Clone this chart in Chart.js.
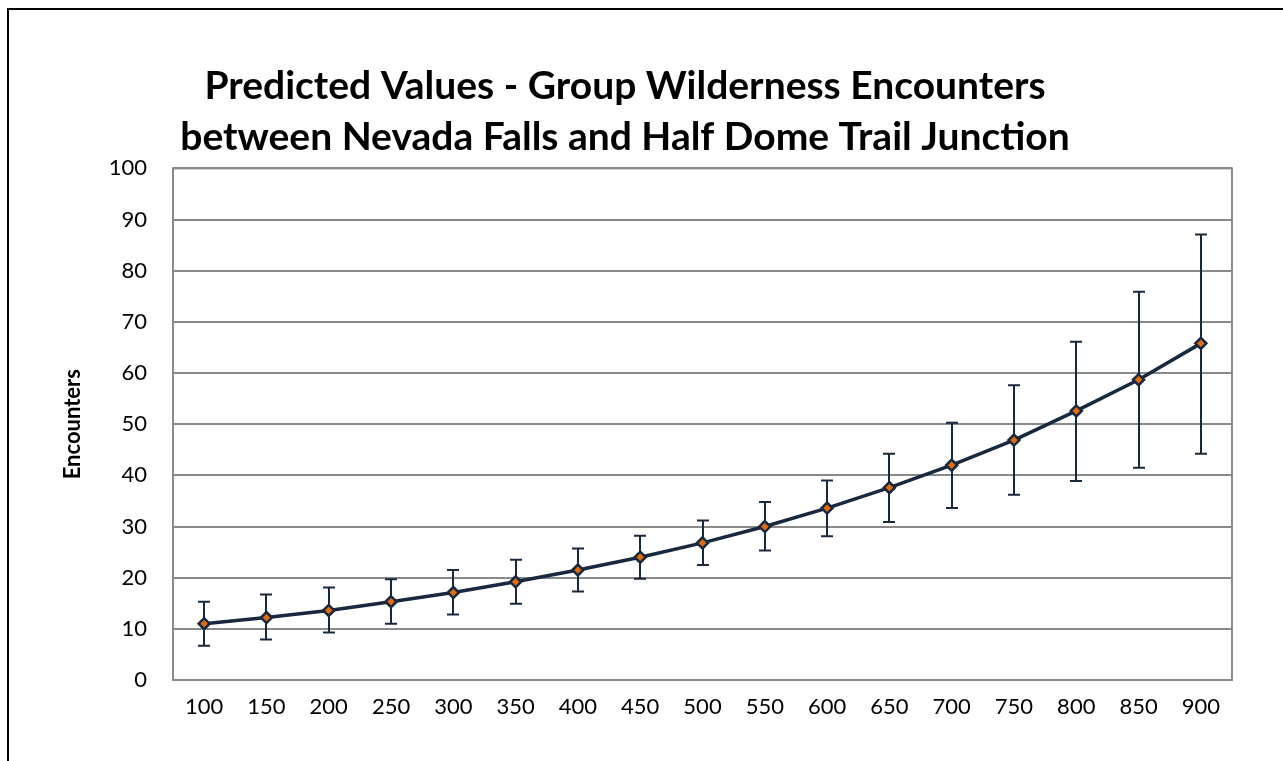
<!DOCTYPE html>
<html>
<head>
<meta charset="utf-8">
<script src="https://cdn.jsdelivr.net/npm/chart.js@4"></script>
<style>
html,body{margin:0;padding:0;background:#fff;}
#wrap{position:absolute;left:0;top:0;width:1283px;height:761px;}
#frame{position:absolute;left:7px;top:8px;width:1290px;height:800px;border-left:2px solid #000;border-top:2px solid #000;pointer-events:none;}
canvas{position:absolute;left:0;top:0;}
</style>
</head>
<body>
<div id="wrap"><canvas id="c" width="1283" height="761"></canvas><div id="frame"></div></div>
<script>
const titleLines = ['Predicted Values - Group Wilderness Encounters', 'between Nevada Falls and Half Dome Trail Junction'];
const yAxisTitle = 'Encounters';
const categories = ['100','150','200','250','300','350','400','450','500','550','600','650','700','750','800','850','900'];
const predicted = [11.0, 12.2, 13.6, 15.3, 17.1, 19.2, 21.5, 24.0, 26.8, 30.0, 33.6, 37.6, 42.0, 46.9, 52.6, 58.7, 65.8];
const upperBound = [15.3, 16.7, 18.1, 19.7, 21.5, 23.5, 25.7, 28.2, 31.2, 34.8, 39.0, 44.2, 50.3, 57.6, 66.1, 75.9, 87.1];
const lowerBound = [6.7, 7.9, 9.3, 11.0, 12.8, 14.9, 17.3, 19.8, 22.5, 25.3, 28.1, 30.9, 33.6, 36.2, 38.9, 41.5, 44.2];
const yTicks = [0,10,20,30,40,50,60,70,80,90,100];

const NAVY = '#18283f';
const ORANGE = '#e46c0a';
const GRID = '#8a8a8a';
const FONT = 'Lato, "Open Sans", sans-serif';

const frameAndErrors = {
  id: 'frameAndErrors',
  beforeDatasetsDraw(chart) {
    const {ctx, chartArea: a} = chart;
    ctx.save();
    ctx.strokeStyle = GRID;
    ctx.lineWidth = 2;
    ctx.strokeRect(a.left, a.top, a.right - a.left, a.bottom - a.top);
    const xs = chart.scales.x, ys = chart.scales.y;
    ctx.strokeStyle = NAVY;
    ctx.lineWidth = 2;
    const cap = 6;
    for (let i = 0; i < categories.length; i++) {
      const x = Math.round(xs.getPixelForValue(i));
      const yt = ys.getPixelForValue(upperBound[i]);
      const yb = ys.getPixelForValue(lowerBound[i]);
      ctx.beginPath();
      ctx.moveTo(x, yt); ctx.lineTo(x, yb);
      ctx.moveTo(x - cap, yt); ctx.lineTo(x + cap, yt);
      ctx.moveTo(x - cap, yb); ctx.lineTo(x + cap, yb);
      ctx.stroke();
    }
    ctx.restore();
  }
};

new Chart(document.getElementById('c'), {
  type: 'line',
  data: {
    labels: categories,
    datasets: [{
      label: 'Predicted',
      data: predicted,
      borderColor: NAVY,
      borderWidth: 3.5,
      pointStyle: 'rectRot',
      pointRadius: 5.5,
      pointBorderWidth: 2.5,
      pointBackgroundColor: ORANGE,
      pointBorderColor: NAVY,
      tension: 0,
      fill: false
    }]
  },
  options: {
    responsive: false,
    animation: false,
    devicePixelRatio: 1,
    layout: {padding: {left: 18, right: 51, top: 10, bottom: 0}},
    plugins: {
      legend: {display: false},
      tooltip: {enabled: false},
      title: {
        display: true,
        text: titleLines,
        color: '#000',
        font: {family: FONT, size: 39, weight: 'bold', lineHeight: 1.3},
        padding: {top: 51, bottom: 6}
      }
    },
    scales: {
      x: {
        offset: true,
        grid: {display: false, drawTicks: false},
        border: {display: false},
        ticks: {color: '#000', font: {family: FONT, size: 22}, padding: 14, maxRotation: 0, autoSkip: false},
        afterFit(s) { s.height = 81; }
      },
      y: {
        min: 0, max: 100,
        afterBuildTicks(s) { s.ticks = yTicks.map(v => ({value: v})); },
        grid: {color: GRID, lineWidth: 2, drawTicks: false},
        border: {display: false},
        ticks: {color: '#000', font: {family: FONT, size: 22}, padding: 26},
        title: {display: true, text: yAxisTitle, color: '#000', font: {family: FONT, size: 22, weight: 'bold'}, padding: {top: 42, bottom: 0}},
        afterFit(s) { s.width = 155; }
      }
    }
  },
  plugins: [frameAndErrors]
});
</script>
</body>
</html>
